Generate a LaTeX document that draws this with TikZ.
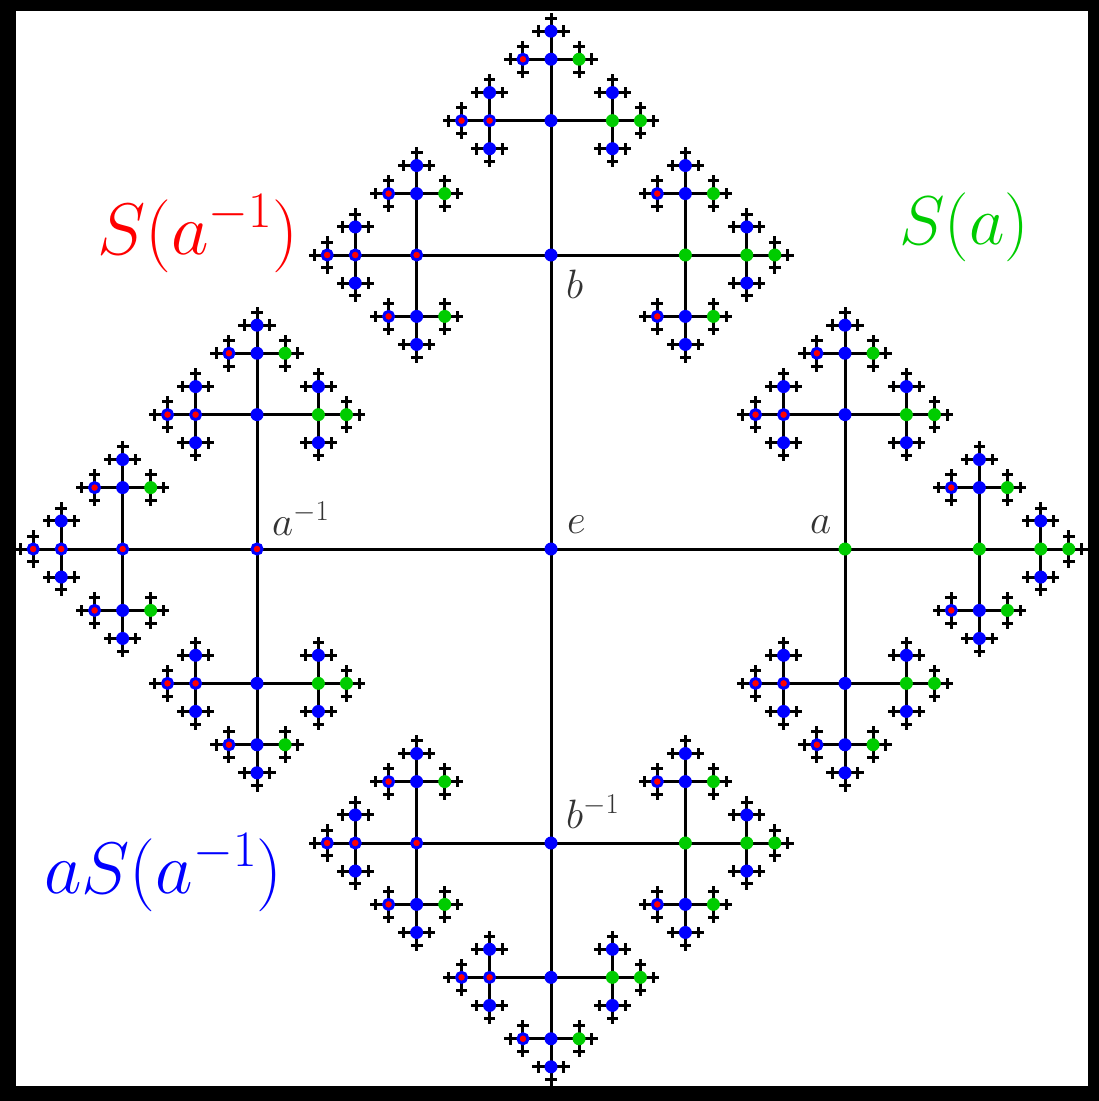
\RequirePackage{fix-cm}
\documentclass[tikz,border=0pt]{standalone}
\usepackage{amsmath,amssymb}
\usepackage{tikz}
\usepackage{xcolor}
\usetikzlibrary{calc}
\definecolor{setred}{HTML}{FF0000}
\definecolor{setgreen}{HTML}{00CC00}
\definecolor{setblue}{HTML}{0000FF}
\definecolor{labelgray}{HTML}{333333}
\tikzset{
  cayleyedge/.style={draw=black, line width=3pt},
  bluevertex/.style={circle, fill=setblue, inner sep=0pt, minimum size=13pt},
  greenvertex/.style={circle, fill=setgreen, inner sep=0pt, minimum size=13pt},
  redvertex/.style={circle, fill=setred, draw=setblue, line width=3pt, inner sep=0pt, minimum size=10pt},
  vertexlabel/.style={text=labelgray, inner sep=0pt, anchor=base west, font=\fontsize{41}{49}\selectfont},
  setlabel/.style={inner sep=0pt, anchor=base west, font=\fontsize{73}{86}\selectfont}
}
% #1 parent word, #2 direction (0=a, 1=b, 2=a^{-1}, 3=b^{-1}), #3 depth
\newcommand{\cayleybranch}[3]{%
  \begingroup
  \edef\letter{\ifcase#2 a\or b\or A\or B\fi}%
  \edef\vstyle{\ifcase#2 greenvertex\or bluevertex\or redvertex\or bluevertex\fi}%
  \edef\word{#1\letter}%
  \pgfmathsetmacro\seglen{294*0.457^(#3-1)}%
  \pgfmathsetmacro\dx{cos(90*#2)*\seglen}%
  \pgfmathsetmacro\dy{sin(90*#2)*\seglen}%
  \pgfmathtruncatemacro\back{mod(#2+2,4)}%
  \pgfmathtruncatemacro\nextdepth{#3+1}%
  \edef\curdepth{#3}%
  \coordinate (\word) at ($(#1)+(\dx,-\dy)$);
  \draw[cayleyedge] (#1) -- (\word);
  \ifnum\curdepth<6
    \foreach \d in {0,...,3}{%
      \ifnum\d=\back\else
        \edef\next{\noexpand\cayleybranch{\word}{\d}{\nextdepth}}\next
      \fi}%
  \fi
  \ifnum\curdepth<5
    \expandafter\node\expandafter[\vstyle] (v\word) at (\word) {};
  \fi
  \endgroup}

\begin{document}
\begin{tikzpicture}[x=1pt, y=-1pt]
\fill[black] (0,0) rectangle (1099,1101);
\fill[white] (16,11) rectangle (1088,1086);

\coordinate (e) at (551,549);
\foreach \d in {0,...,3}{%
  \edef\next{\noexpand\cayleybranch{e}{\d}{1}}\next}
\node[bluevertex] (ve) at (e) {};

\node[vertexlabel] (lbl-e) at (567,533) {$e$};
\node[vertexlabel] (lbl-a) at (810,533) {$a$};
\node[vertexlabel] (lbl-ainv) at (272,535) {$a^{-1}$};
\node[vertexlabel] (lbl-b) at (566,298) {$b$};
\node[vertexlabel] (lbl-binv) at (566,828) {$b^{-1}$};

\node[setlabel, text=setred] (set-ainv) at (97,254) {$S(a^{-1})$};
\node[setlabel, text=setgreen, font=\fontsize{69}{82}\selectfont] (set-a) at (899,244) {$S(a)$};
\node[setlabel, text=setblue] (set-aainv) at (44,893) {$aS(a^{-1})$};
\end{tikzpicture}
\end{document}
